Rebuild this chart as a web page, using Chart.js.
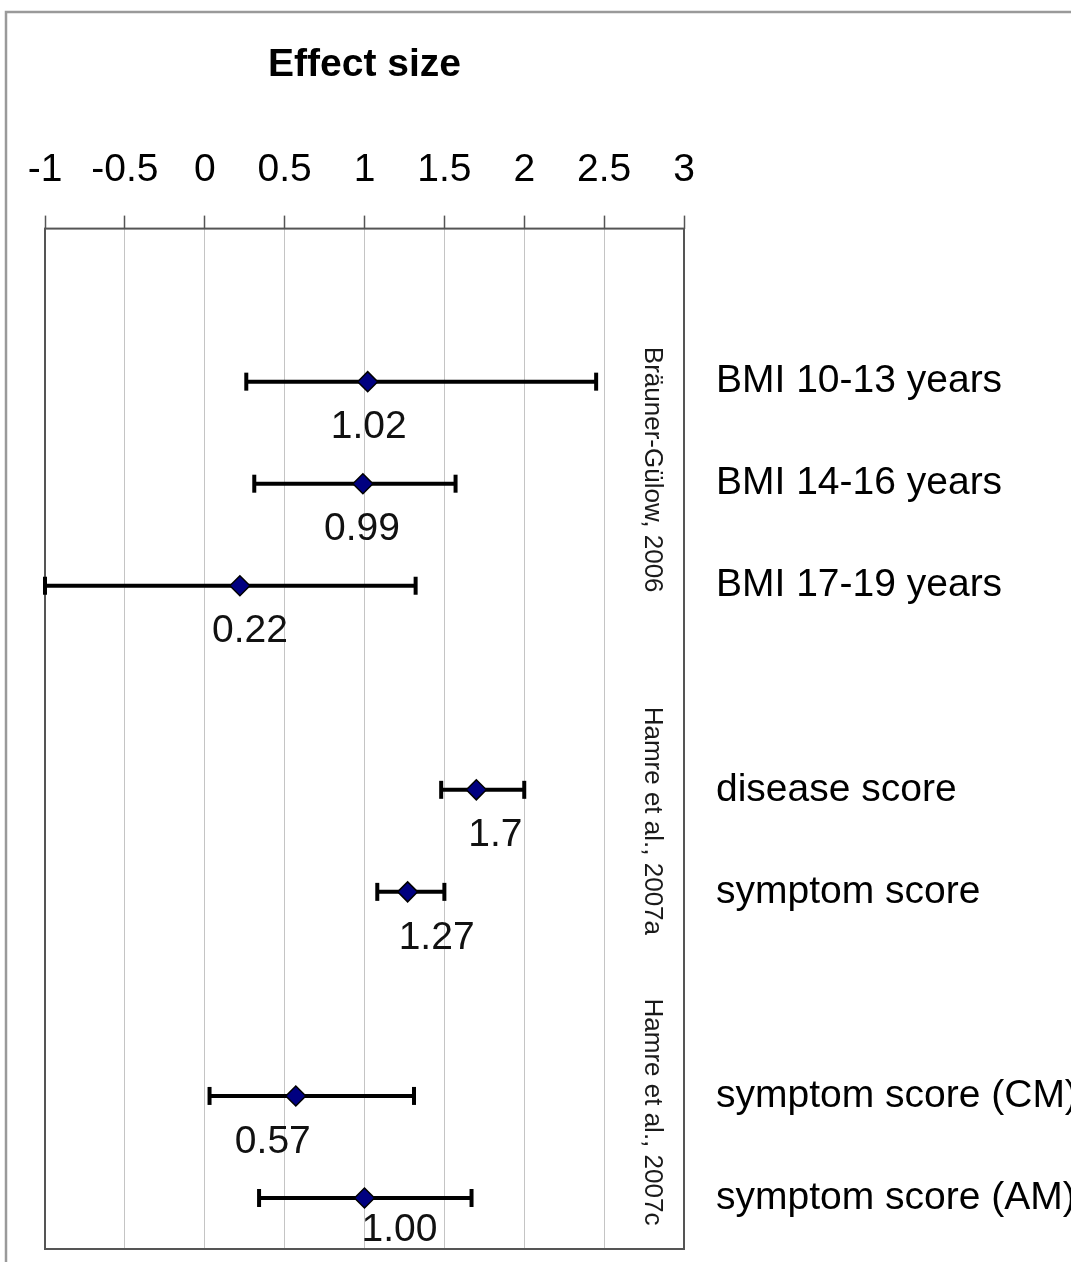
<!DOCTYPE html>
<html>
<head>
<meta charset="utf-8">
<script src="https://cdn.jsdelivr.net/npm/chart.js@4.4.1/dist/chart.umd.min.js"></script>
<style>
  html, body { margin: 0; padding: 0; background: #fff; }
  canvas { display: block; }
</style>
</head>
<body>
<canvas id="c" width="1071" height="1262"></canvas>
<script>
// ---- data ----
const categories = ['BMI 10-13 years', 'BMI 14-16 years', 'BMI 17-19 years',
                    'disease score', 'symptom score',
                    'symptom score (CM)', 'symptom score (AM)'];
const rowIndex = [0, 1, 2, 4, 5, 7, 8];
const effect = [1.02, 0.99, 0.22, 1.70, 1.27, 0.57, 1.00];
const lower  = [0.26, 0.31, -1.00, 1.48, 1.08, 0.03, 0.34];
const upper  = [2.45, 1.57, 1.32, 2.00, 1.50, 1.31, 1.67];
const valueLabels = ['1.02', '0.99', '0.22', '1.7', '1.27', '0.57', '1.00'];
const xTicks = [-1, -0.5, 0, 0.5, 1, 1.5, 2, 2.5, 3];
const groups = ['Bräuner-Gülow, 2006', 'Hamre et al., 2007a', 'Hamre et al., 2007c'];
const groupRows = [[0, 2], [4, 5], [7, 8]];
const groupXValue = 2.8;
const axisTitle = 'Effect size';

// ---- styles ----
const FONT = "Arial, 'Liberation Sans', Helvetica, sans-serif";
const labelOffsets = [[1, 46], [-1, 46], [10, 46], [19, 45], [29, 46], [-23, 46], [35, 32]];
const groupOffsets = [-14, -20, -35];

const datasets = [];
datasets.push({
  type: 'scatter',
  label: 'effect',
  data: effect.map((v, i) => ({ x: v, y: rowIndex[i] })),
  pointStyle: 'rectRot',
  pointRadius: 10,
  pointBackgroundColor: '#000080',
  pointBorderColor: '#000000',
  pointBorderWidth: 1.5,
  clip: false,
  order: 0
});
rowIndex.forEach((r, i) => {
  datasets.push({
    type: 'line',
    label: 'ci' + i,
    data: [{ x: lower[i], y: r }, { x: upper[i], y: r }],
    borderColor: '#000000',
    borderWidth: 4,
    pointStyle: 'line',
    pointRotation: 90,
    pointRadius: 9,
    pointBorderWidth: 4,
    pointBorderColor: '#000000',
    fill: false,
    clip: false,
    order: 1
  });
});

const decorPlugin = {
  id: 'decor',
  beforeDraw(chart) {
    const ctx = chart.ctx;
    ctx.save();
    ctx.fillStyle = '#ffffff';
    ctx.fillRect(0, 0, chart.width, chart.height);
    ctx.strokeStyle = '#9a9a9a';
    ctx.lineWidth = 2.5;
    ctx.beginPath();
    ctx.moveTo(6, chart.height + 5);
    ctx.lineTo(6, 12);
    ctx.lineTo(chart.width + 5, 12);
    ctx.stroke();
    ctx.restore();
  },
  beforeDatasetsDraw(chart) {
    const ctx = chart.ctx;
    const a = chart.chartArea;
    ctx.save();
    ctx.strokeStyle = '#555555';
    ctx.lineWidth = 2;
    ctx.strokeRect(a.left, a.top, a.right - a.left, a.bottom - a.top);
    // group labels (rotated)
    const xs = chart.scales.x, ys = chart.scales.y;
    ctx.fillStyle = '#1a1a1a';
    ctx.font = '26px ' + FONT;
    ctx.textAlign = 'center';
    ctx.textBaseline = 'middle';
    groups.forEach((g, i) => {
      const yc = (ys.getPixelForValue(groupRows[i][0]) + ys.getPixelForValue(groupRows[i][1])) / 2 + groupOffsets[i];
      const xc = xs.getPixelForValue(groupXValue);
      ctx.save();
      ctx.translate(xc, yc);
      ctx.rotate(Math.PI / 2);
      ctx.fillText(g, 0, 0);
      ctx.restore();
    });
    ctx.restore();
  },
  afterDatasetsDraw(chart) {
    const ctx = chart.ctx;
    const xs = chart.scales.x, ys = chart.scales.y;
    ctx.save();
    ctx.fillStyle = '#111111';
    ctx.font = '39px ' + FONT;
    ctx.textAlign = 'center';
    ctx.textBaseline = 'middle';
    effect.forEach((v, i) => {
      const px = xs.getPixelForValue(v) + labelOffsets[i][0];
      const py = ys.getPixelForValue(rowIndex[i]) + labelOffsets[i][1];
      ctx.fillText(valueLabels[i], px, py);
    });
    ctx.restore();
  }
};

new Chart(document.getElementById('c'), {
  data: { datasets },
  options: {
    responsive: false,
    animation: false,
    layout: { padding: { top: 20, left: 45, right: 0, bottom: 13 } },
    plugins: { legend: { display: false }, tooltip: { enabled: false } },
    scales: {
      x: {
        type: 'linear',
        position: 'top',
        min: -1,
        max: 3,
        afterBuildTicks(scale) { scale.ticks = xTicks.map(v => ({ value: v })); },
        afterFit(scale) { scale.paddingLeft = 0; scale.paddingRight = 0; },
        ticks: {
          callback: (v) => String(v),
          color: '#000000',
          font: { family: FONT, size: 39 },
          padding: 22,
          maxRotation: 0,
          autoSkip: false
        },
        grid: {
          color: '#c4c4c4',
          lineWidth: 1,
          tickLength: 13,
          tickColor: '#555555',
          tickWidth: 1.5
        },
        border: { display: false },
        title: {
          display: true,
          text: axisTitle,
          color: '#000000',
          font: { family: FONT, size: 39, weight: 'bold' },
          padding: { top: 22, bottom: 36 }
        }
      },
      y: {
        type: 'linear',
        position: 'right',
        min: -1.5,
        max: 8.5,
        reverse: true,
        afterBuildTicks(scale) { scale.ticks = rowIndex.map(v => ({ value: v })); },
        afterFit(scale) { scale.width = 387; scale.paddingTop = 0; scale.paddingBottom = 0; },
        ticks: {
          callback: (v) => { const k = rowIndex.indexOf(v); return k >= 0 ? categories[k] : ''; },
          color: '#000000',
          font: { family: FONT, size: 39 },
          padding: 32,
          autoSkip: false
        },
        grid: { display: false, drawTicks: false },
        border: { display: false }
      }
    }
  },
  plugins: [decorPlugin]
});
</script>
</body>
</html>
